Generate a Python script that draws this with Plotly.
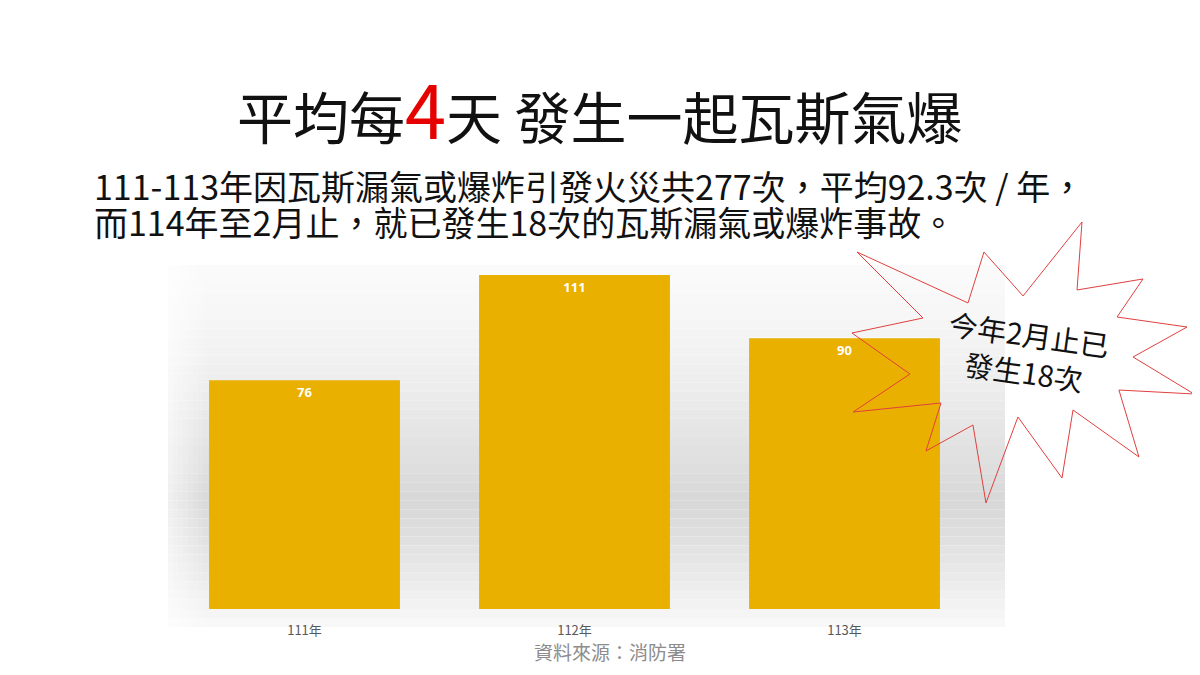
import plotly.graph_objects as go

# data
years = ["111年", "112年", "113年"]
counts = [76, 111, 90]

title_pre = "平均每"
title_num = "4"
title_post = "天 發生一起瓦斯氣爆"
sub_line1 = "111-113年因瓦斯漏氣或爆炸引發火災共277次，平均92.3次 / 年，"
sub_line2 = "而114年至2月止，就已發生18次的瓦斯漏氣或爆炸事故。"
burst_text = "今年2月止已<br>發生18次"
source_text = "資料來源：消防署"

# page body has an 8px margin, so the figure is 16px smaller than the window
OFF = 8
W, H = 1200 - 2 * OFF, 675 - 2 * OFF
FONT = "Noto Sans CJK TC"

def px2paper(x, y):
    return (x - OFF) / W, 1 - (y - OFF) / H

fig = go.Figure()

fig.add_trace(go.Bar(
    x=years, y=counts,
    marker=dict(color="#EAB000", line=dict(width=0)),
    width=0.707,
    text=[str(c) for c in counts],
    textposition="inside",
    insidetextanchor="end",
    textfont=dict(color="white", size=13, family="Noto Sans"),
    texttemplate="<b>%{text}</b>",
))

# plot area background: gray gradient bands (white top -> gray -> white bottom)
shapes = []
band_top, band_bot = 265, 627
n = 40
for i in range(n):
    y0 = band_top + (band_bot - band_top) * i / n
    y1 = band_top + (band_bot - band_top) * (i + 1) / n
    t = (i + 0.5) / n
    if t < 0.65:
        g = 251 - (251 - 216) * (t / 0.65) ** 1.4
    else:
        g = 216 + (250 - 216) * ((t - 0.65) / 0.35) ** 1.2
    g = int(g)
    px0, py0 = px2paper(168, y0)
    px1, py1 = px2paper(1005, y1)
    shapes.append(dict(type="rect", xref="paper", yref="paper",
                       x0=px0, x1=px1, y0=py1, y1=py0,
                       fillcolor=f"rgb({g},{g},{g})", line=dict(width=0), layer="below"))
# soften left edge
for i in range(8):
    xa = 168 + i * 5
    px0, py0 = px2paper(xa, band_top)
    px1, py1 = px2paper(xa + 5, band_bot)
    shapes.append(dict(type="rect", xref="paper", yref="paper",
                       x0=px0, x1=px1, y0=py1, y1=py0,
                       fillcolor="white", opacity=0.6 * (1 - i / 8), line=dict(width=0), layer="below"))

# starburst outline
star_px = [
    (857, 252), (968, 303), (984, 252), (1023, 296), (1082, 222), (1077, 290),
    (1143, 279), (1117, 317), (1187, 327), (1133, 357), (1194, 394), (1119, 390),
    (1139, 457), (1073, 410), (1062, 478), (1018, 417), (986, 503), (973, 425),
    (926, 451), (941, 403), (853, 412), (910, 374), (852, 333), (923, 318),
]
path = ""
for k, (sx, sy) in enumerate(star_px):
    px, py = px2paper(sx, sy)
    path += ("M" if k == 0 else " L") + f"{px:.4f},{py:.4f}"
path += " Z"
shapes.append(dict(type="path", xref="paper", yref="paper", path=path,
                   line=dict(color="#E0403F", width=1), fillcolor="rgba(0,0,0,0)", layer="above"))

fig.update_layout(shapes=shapes)

def ann(text, x, y, size, color="#111111", xanchor="center", yanchor="middle", **kw):
    px, py = px2paper(x, y)
    return dict(text=text, x=px, y=py, xanchor=xanchor, yanchor=yanchor,
                xref="paper", yref="paper", showarrow=False,
                font=dict(family=FONT, size=size, color=color), **kw)

annotations = [
    ann(f"{title_pre}<span style='color:#E60000;font-size:74px'>{title_num}</span>{title_post}",
        600, 106, 56),
    ann(sub_line1, 92, 186, 34, xanchor="left"),
    ann(sub_line2, 92, 222, 34, xanchor="left"),
    ann(burst_text, 1026, 352, 29, textangle=8),
    ann(source_text, 610, 667, 19, color="#8C8C8C", yanchor="bottom"),
]
fig.update_layout(annotations=annotations)

dx0, dy0 = px2paper(169.5, 609)
dx1, dy1 = px2paper(979.5, 265)
fig.update_xaxes(domain=[dx0, dx1], range=[-0.5, 2.5],
                 showline=False, showgrid=False, ticks="", zeroline=False,
                 ticklabelstandoff=12,
                 tickfont=dict(family=FONT, size=13, color="#595959"))
fig.update_yaxes(domain=[dy0, dy1], range=[0, 114.3],
                 visible=False, showgrid=False, zeroline=False)

fig.update_layout(
    width=W, height=H,
    margin=dict(l=0, r=0, t=0, b=0),
    plot_bgcolor="rgba(0,0,0,0)", paper_bgcolor="white",
    showlegend=False,
)

fig.write_html("out.html")
